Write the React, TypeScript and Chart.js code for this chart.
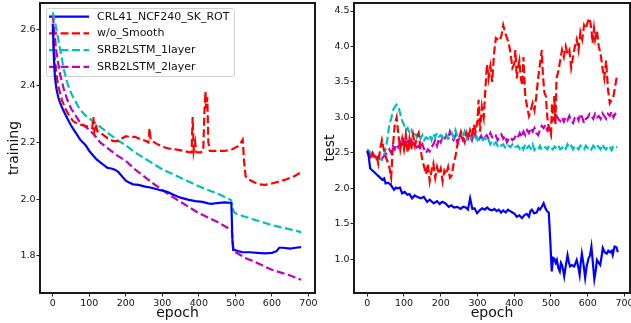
import React, { useEffect, useRef } from "react";
import { Chart, registerables } from "chart.js";

Chart.register(...registerables);

// ---------- labels ----------
const seriesNames = ["CRL41_NCF240_SK_ROT", "w/o_Smooth", "SRB2LSTM_1layer", "SRB2LSTM_2layer"];
const seriesColors = ["#0000ff", "#ff0000", "#00bfbf", "#bf00bf"];
const seriesDashed = [false, true, true, true];
const epochTicks = [0, 100, 200, 300, 400, 500, 600, 700];
const trainTicks = [1.8, 2.0, 2.2, 2.4, 2.6];
const testTicks = [1.0, 1.5, 2.0, 2.5, 3.0, 3.5, 4.0, 4.5];

// ---------- training (left) ----------
const trainCrlEpoch = [0, 3, 6, 10, 15, 20, 30, 40, 50, 60, 75, 90, 100, 110, 120, 130, 140, 150, 160, 170, 180, 190, 200, 210, 220, 235, 250, 270, 290, 300, 315, 330, 350, 370, 390, 410, 425, 435, 450, 470, 485, 489, 492, 494, 500, 510, 520, 540, 560, 580, 600, 612, 620, 630, 650, 665, 680];
const trainCrlLoss = [2.62, 2.5, 2.43, 2.39, 2.36, 2.34, 2.31, 2.285, 2.26, 2.24, 2.21, 2.19, 2.17, 2.155, 2.14, 2.13, 2.12, 2.11, 2.108, 2.104, 2.095, 2.08, 2.065, 2.058, 2.052, 2.05, 2.045, 2.04, 2.033, 2.03, 2.025, 2.015, 2.005, 1.998, 1.993, 1.99, 1.985, 1.983, 1.986, 1.988, 1.987, 1.985, 1.85, 1.82, 1.82, 1.815, 1.812, 1.812, 1.81, 1.808, 1.81, 1.815, 1.828, 1.828, 1.825, 1.828, 1.83];

const trainNoSmoothEpoch = [0, 5, 10, 15, 25, 34, 45, 56, 70, 85, 100, 108, 111, 114, 118, 122, 130, 150, 165, 180, 190, 200, 210, 225, 240, 255, 262, 265, 268, 272, 285, 300, 320, 340, 360, 375, 380, 383, 386, 390, 393, 405, 412, 415, 418, 420, 423, 426, 430, 450, 470, 490, 505, 515, 520, 524, 528, 535, 550, 565, 580, 600, 620, 640, 660, 680];
const trainNoSmoothLoss = [2.6, 2.5, 2.44, 2.4, 2.35, 2.32, 2.295, 2.275, 2.265, 2.26, 2.255, 2.25, 2.29, 2.24, 2.265, 2.24, 2.235, 2.215, 2.205, 2.205, 2.215, 2.222, 2.22, 2.22, 2.212, 2.205, 2.2, 2.25, 2.21, 2.205, 2.195, 2.185, 2.178, 2.175, 2.17, 2.165, 2.165, 2.29, 2.17, 2.2, 2.165, 2.165, 2.17, 2.3, 2.38, 2.32, 2.36, 2.2, 2.17, 2.17, 2.17, 2.175, 2.185, 2.2, 2.21, 2.13, 2.08, 2.07, 2.06, 2.052, 2.05, 2.055, 2.062, 2.07, 2.08, 2.095];

const train1LayerEpoch = [0, 10, 20, 30, 40, 50, 60, 75, 90, 100, 115, 130, 150, 175, 200, 225, 250, 275, 300, 325, 350, 375, 400, 425, 450, 470, 488, 492, 496, 500, 520, 550, 575, 600, 625, 650, 680];
const train1LayerLoss = [2.66, 2.6, 2.53, 2.46, 2.41, 2.375, 2.35, 2.315, 2.295, 2.285, 2.27, 2.255, 2.235, 2.21, 2.19, 2.165, 2.145, 2.125, 2.105, 2.09, 2.075, 2.06, 2.045, 2.032, 2.02, 2.008, 1.997, 1.97, 1.955, 1.95, 1.94, 1.928, 1.918, 1.908, 1.9, 1.893, 1.883];

const train2LayerEpoch = [0, 5, 10, 20, 30, 40, 50, 60, 75, 90, 100, 115, 130, 150, 175, 200, 225, 250, 275, 300, 325, 350, 375, 400, 425, 450, 470, 490, 494, 497, 510, 530, 550, 575, 600, 625, 650, 680];
const train2LayerLoss = [2.65, 2.58, 2.52, 2.44, 2.39, 2.35, 2.32, 2.3, 2.27, 2.255, 2.245, 2.225, 2.2, 2.18, 2.155, 2.135, 2.105, 2.08, 2.055, 2.032, 2.01, 1.99, 1.97, 1.95, 1.935, 1.92, 1.905, 1.89, 1.83, 1.815, 1.805, 1.79, 1.78, 1.765, 1.75, 1.74, 1.73, 1.715];

// ---------- test (right) ----------
const testCrlEpoch = [0, 4, 8, 18, 25, 32, 41, 46, 50, 57, 64, 73, 78, 82, 89, 95, 102, 109, 115, 122, 129, 136, 145, 154, 163, 170, 181, 190, 197, 204, 212, 222, 229, 236, 245, 254, 261, 268, 274, 280, 286, 292, 299, 306, 313, 320, 326, 333, 340, 346, 352, 358, 364, 370, 377, 383, 389, 395, 401, 407, 414, 421, 427, 434, 440, 444, 448, 454, 461, 466, 470, 475, 480, 485, 489, 494, 498, 502, 506, 509, 513, 516, 520, 524, 527, 530, 533, 536, 540, 545, 549, 552, 557, 563, 567, 570, 574, 578, 581, 584, 588, 593, 597, 602, 606, 610, 614, 618, 622, 625, 630, 634, 638, 641, 646, 652, 656, 661, 665, 668, 673, 678, 682];
const testCrlLoss = [2.53, 2.45, 2.28, 2.235, 2.2, 2.165, 2.12, 2.14, 2.07, 2.08, 2.05, 1.98, 2.01, 2.0, 2.01, 1.93, 1.95, 1.91, 1.92, 1.86, 1.9, 1.88, 1.86, 1.88, 1.81, 1.84, 1.79, 1.82, 1.78, 1.81, 1.79, 1.74, 1.76, 1.73, 1.74, 1.71, 1.74, 1.73, 1.7, 1.86, 1.71, 1.72, 1.65, 1.69, 1.72, 1.7, 1.73, 1.7, 1.69, 1.71, 1.68, 1.7, 1.66, 1.69, 1.66, 1.7, 1.68, 1.66, 1.64, 1.6, 1.62, 1.58, 1.62, 1.64, 1.6, 1.68, 1.7, 1.65, 1.66, 1.72, 1.7, 1.74, 1.79, 1.72, 1.68, 1.66, 1.27, 0.83, 1.02, 1.01, 0.95, 0.99, 0.88, 0.83, 0.95, 0.92, 0.85, 0.76, 0.9, 1.06, 0.95, 0.9, 0.92, 0.9, 0.95, 0.99, 0.9, 0.78, 0.95, 1.08, 0.95, 0.74, 0.9, 1.01, 1.05, 1.18, 0.95, 0.72, 0.85, 0.99, 0.95, 0.92, 1.05, 1.16, 1.1, 1.08, 1.12, 1.1, 1.12, 1.06, 1.18, 1.17, 1.1];

const testNoSmoothEpoch = [0, 5, 10, 15, 20, 25, 30, 35, 40, 45, 50, 55, 60, 65, 70, 75, 80, 85, 90, 95, 100, 105, 110, 115, 120, 125, 130, 135, 140, 145, 150, 155, 160, 165, 170, 175, 180, 185, 190, 195, 200, 205, 210, 215, 220, 225, 230, 235, 240, 245, 250, 255, 260, 265, 270, 275, 280, 285, 290, 295, 300, 303, 307, 312, 317, 322, 326, 330, 335, 340, 345, 350, 355, 360, 365, 370, 375, 380, 385, 390, 395, 400, 403, 407, 410, 414, 418, 422, 425, 430, 435, 440, 445, 450, 455, 460, 465, 470, 475, 478, 482, 486, 490, 495, 500, 503, 506, 509, 512, 515, 520, 525, 530, 535, 540, 545, 550, 555, 560, 565, 570, 575, 580, 585, 590, 595, 600, 605, 610, 613, 617, 620, 625, 630, 635, 640, 645, 650, 655, 660, 665, 670, 675, 680];
const testNoSmoothLoss = [2.52, 2.48, 2.42, 2.5, 2.45, 2.48, 2.35, 2.55, 2.68, 2.55, 2.45, 2.38, 2.3, 2.15, 2.6, 2.9, 3.0, 2.75, 2.55, 2.7, 2.55, 2.75, 2.5, 2.7, 2.55, 2.75, 2.6, 2.72, 2.78, 2.55, 2.4, 2.3, 2.2, 2.35, 2.1, 2.25, 2.35, 2.15, 2.3, 2.2, 2.28, 2.1, 2.25, 2.2, 2.3, 2.15, 2.18, 2.35, 2.45, 2.6, 2.7, 2.8, 2.72, 2.65, 2.78, 2.7, 2.82, 2.75, 2.9, 2.8, 2.95, 3.25, 2.8, 3.15, 3.0, 3.45, 3.75, 3.55, 3.72, 3.5, 3.9, 4.12, 4.1, 4.08, 4.15, 4.3, 4.2, 4.12, 4.05, 3.9, 3.7, 3.75, 3.95, 3.55, 3.7, 3.8, 3.55, 3.45, 3.85, 3.3, 3.15, 3.02, 3.1, 3.2, 3.1, 3.3, 3.55, 3.75, 3.95, 3.6, 3.35, 3.3, 3.0, 2.82, 2.75, 3.2, 2.95, 3.3, 2.9, 3.55, 3.65, 3.8, 3.95, 3.85, 4.0, 3.9, 3.95, 3.7, 3.85, 4.0, 4.1, 3.95, 4.2, 4.1, 4.3, 4.25, 4.35, 4.4, 4.25, 4.05, 4.25, 4.1, 4.22, 4.0, 3.9, 3.7, 3.55, 3.8, 3.4, 3.2, 3.25, 3.3, 3.45, 3.6];

const test1LayerEpoch = [0, 10, 20, 30, 40, 45, 50, 55, 60, 65, 70, 75, 80, 85, 90, 95, 100, 105, 110, 115, 120, 125, 130, 135, 140, 145, 150, 155, 160, 165, 170, 175, 180, 185, 190, 195, 200, 205, 210, 215, 220, 225, 230, 235, 240, 245, 250, 255, 260, 265, 270, 275, 280, 285, 290, 295, 300, 305, 310, 315, 320, 325, 330, 335, 340, 345, 350, 355, 360, 365, 370, 375, 380, 385, 390, 395, 400, 410, 415, 420, 425, 430, 435, 440, 445, 450, 455, 460, 465, 470, 475, 480, 485, 490, 495, 500, 505, 510, 515, 520, 525, 530, 535, 540, 545, 550, 555, 560, 565, 570, 575, 580, 585, 590, 595, 600, 605, 610, 615, 620, 625, 630, 635, 640, 645, 650, 655, 660, 665, 670, 675, 680];
const test1LayerLoss = [2.55, 2.5, 2.45, 2.42, 2.4, 2.45, 2.55, 2.7, 2.9, 2.98, 3.1, 3.15, 3.18, 3.15, 3.05, 2.95, 2.9, 2.82, 2.85, 2.78, 2.82, 2.75, 2.8, 2.72, 2.78, 2.7, 2.75, 2.68, 2.72, 2.7, 2.75, 2.68, 2.77, 2.72, 2.78, 2.73, 2.75, 2.7, 2.72, 2.76, 2.7, 2.74, 2.78, 2.72, 2.82, 2.74, 2.7, 2.78, 2.72, 2.8, 2.7, 2.76, 2.68, 2.75, 2.7, 2.74, 2.68, 2.72, 2.7, 2.68, 2.72, 2.66, 2.68, 2.62, 2.66, 2.62, 2.65, 2.6, 2.63, 2.6, 2.62, 2.58, 2.62, 2.6, 2.58, 2.62, 2.57, 2.6, 2.56, 2.6, 2.55, 2.62, 2.57, 2.6, 2.56, 2.62, 2.54, 2.57, 2.55, 2.6, 2.54, 2.56, 2.58, 2.55, 2.6, 2.57, 2.55, 2.59, 2.56, 2.6, 2.55, 2.57, 2.6, 2.56, 2.62, 2.57, 2.6, 2.55, 2.6, 2.58, 2.55, 2.6, 2.57, 2.55, 2.6, 2.57, 2.59, 2.55, 2.6, 2.57, 2.61, 2.58, 2.55, 2.62, 2.57, 2.55, 2.6, 2.58, 2.54, 2.6, 2.58, 2.58];

const test2LayerEpoch = [0, 5, 10, 15, 20, 25, 30, 35, 40, 45, 50, 55, 60, 65, 70, 75, 80, 85, 90, 95, 100, 105, 110, 115, 120, 125, 130, 135, 140, 145, 150, 155, 160, 165, 170, 175, 180, 185, 190, 195, 200, 205, 210, 215, 220, 225, 230, 235, 240, 245, 250, 255, 260, 265, 270, 275, 280, 285, 290, 295, 300, 305, 310, 315, 320, 325, 330, 335, 340, 345, 350, 355, 360, 365, 370, 375, 380, 385, 390, 395, 400, 405, 410, 415, 420, 425, 430, 435, 440, 445, 450, 455, 460, 465, 470, 475, 480, 485, 490, 495, 500, 505, 510, 515, 520, 525, 530, 535, 540, 545, 550, 555, 560, 565, 570, 575, 580, 585, 590, 595, 600, 605, 610, 615, 620, 625, 630, 635, 640, 645, 650, 655, 660, 665, 670, 675, 680];
const test2LayerLoss = [2.5, 2.5, 2.47, 2.45, 2.48, 2.42, 2.45, 2.4, 2.42, 2.45, 2.48, 2.5, 2.55, 2.5, 2.6, 2.55, 2.62, 2.58, 2.65, 2.6, 2.72, 2.62, 2.7, 2.6, 2.68, 2.62, 2.65, 2.58, 2.6, 2.55, 2.62, 2.55, 2.5, 2.55, 2.52, 2.58, 2.62, 2.68, 2.6, 2.7, 2.65, 2.72, 2.68, 2.75, 2.7, 2.8, 2.72, 2.68, 2.75, 2.65, 2.7, 2.75, 2.68, 2.72, 2.78, 2.7, 2.75, 2.68, 2.78, 2.72, 2.75, 2.7, 2.74, 2.68, 2.72, 2.75, 2.7, 2.78, 2.72, 2.7, 2.74, 2.68, 2.72, 2.76, 2.7, 2.74, 2.65, 2.7, 2.72, 2.68, 2.7, 2.75, 2.72, 2.78, 2.72, 2.8, 2.75, 2.82, 2.78, 2.85, 2.8, 2.85, 2.78, 2.75, 2.82, 2.88, 2.85, 2.9, 2.82, 2.88, 2.92, 2.98, 2.95, 3.02, 2.98, 2.95, 3.0, 2.94, 3.0, 2.96, 3.02, 2.95, 2.92, 3.0, 3.02, 2.96, 3.05, 3.0, 2.92, 2.98, 3.0, 3.05, 3.02, 2.98, 3.05, 3.0, 3.02, 2.98, 3.06, 3.02, 2.98, 3.05, 3.02, 3.08, 3.0, 3.05, 3.1];

const FONT = "'DejaVu Sans', sans-serif";

function pts(xs: number[], ys: number[]) {
  return xs.map((x, i) => ({ x, y: ys[i] }));
}

function makeDatasets(series: { x: number; y: number }[][]) {
  return series.map((data, i) => ({
    label: seriesNames[i],
    data,
    borderColor: seriesColors[i],
    backgroundColor: seriesColors[i],
    borderWidth: 2.2,
    borderDash: seriesDashed[i] ? [8, 3.5] : [],
    pointRadius: 0,
    tension: 0,
    fill: false,
  }));
}

const framePlugin = {
  id: "frame",
  afterDatasetsDraw(chart: any) {
    const { ctx, chartArea: a } = chart;
    ctx.save();
    ctx.strokeStyle = "#1a1a1a";
    ctx.lineWidth = 2;
    ctx.setLineDash([]);
    ctx.strokeRect(a.left, a.top, a.right - a.left, a.bottom - a.top);
    ctx.restore();
  },
};

const legendPlugin = {
  id: "customLegend",
  beforeDatasetsDraw(chart: any) {
    const { ctx } = chart;
    ctx.save();
    const bx = 46.5, by = 8.5, bw = 188, bh = 68;
    ctx.fillStyle = "rgba(255,255,255,0.8)";
    ctx.strokeStyle = "#d0d0d0";
    ctx.lineWidth = 1;
    ctx.beginPath();
    (ctx as any).roundRect ? (ctx as any).roundRect(bx, by, bw, bh, 2) : ctx.rect(bx, by, bw, bh);
    ctx.fill();
    ctx.stroke();
    ctx.font = `11px ${FONT}`;
    ctx.textBaseline = "middle";
    ctx.textAlign = "left";
    seriesNames.forEach((name, i) => {
      const y = 16.7 + i * 16.7;
      ctx.strokeStyle = seriesColors[i];
      ctx.lineWidth = 2.2;
      ctx.setLineDash(seriesDashed[i] ? [8, 3.5] : []);
      ctx.beginPath();
      ctx.moveTo(49, y);
      ctx.lineTo(89, y);
      ctx.stroke();
      ctx.setLineDash([]);
      ctx.fillStyle = "#111";
      ctx.fillText(name, 97, y);
    });
    ctx.restore();
  },
};

function buildOptions(opts: {
  xMin: number; xMax: number; yMin: number; yMax: number;
  yTicks: number[]; yTitle: string; yWidth: number; yTitlePad: number; yFmt: (v: number) => string;
}) {
  return {
    animation: false as const,
    responsive: false,
    devicePixelRatio: 1,
    layout: { padding: { left: 0, right: 5, top: 3, bottom: 0 } },
    plugins: { legend: { display: false }, tooltip: { enabled: false } },
    scales: {
      x: {
        type: "linear" as const,
        min: opts.xMin,
        max: opts.xMax,
        afterBuildTicks: (s: any) => { s.ticks = epochTicks.map((v) => ({ value: v })); },
        afterFit: (s: any) => { s.height = 30; s.paddingLeft = 0; s.paddingRight = 0; },
        ticks: {
          autoSkip: false, maxRotation: 0, padding: 1, color: "#111",
          font: { family: FONT, size: 9.5 },
          callback: (v: any) => String(v),
        },
        grid: { display: true, drawOnChartArea: false, drawTicks: true, tickLength: 3.5, color: "#222", lineWidth: 1 },
        border: { display: false },
        title: { display: true, text: "epoch", color: "#111", font: { family: FONT, size: 14 }, padding: { top: 0, bottom: 1 } },
      },
      y: {
        type: "linear" as const,
        min: opts.yMin,
        max: opts.yMax,
        afterBuildTicks: (s: any) => { s.ticks = opts.yTicks.map((v) => ({ value: v })); },
        afterFit: (s: any) => { s.width = opts.yWidth; s.paddingTop = 0; s.paddingBottom = 0; },
        ticks: {
          autoSkip: false, padding: 1, color: "#111",
          font: { family: FONT, size: 9.5 },
          callback: (v: any) => opts.yFmt(Number(v)),
        },
        grid: { display: true, drawOnChartArea: false, drawTicks: true, tickLength: 3.5, color: "#222", lineWidth: 1 },
        border: { display: false },
        title: { display: true, text: opts.yTitle, color: "#111", font: { family: FONT, size: 14 }, padding: { top: opts.yTitlePad, bottom: 0 } },
      },
    },
  };
}

export default function App() {
  const leftRef = useRef<HTMLCanvasElement>(null);
  const rightRef = useRef<HTMLCanvasElement>(null);

  useEffect(() => {
    const left = new Chart(leftRef.current as HTMLCanvasElement, {
      type: "line",
      data: {
        datasets: makeDatasets([
          pts(trainCrlEpoch, trainCrlLoss),
          pts(trainNoSmoothEpoch, trainNoSmoothLoss),
          pts(train1LayerEpoch, train1LayerLoss),
          pts(train2LayerEpoch, train2LayerLoss),
        ]) as any,
      },
      options: buildOptions({
        xMin: -35, xMax: 718, yMin: 1.668, yMax: 2.693,
        yTicks: trainTicks, yTitle: "training", yWidth: 40, yTitlePad: 5.5,
        yFmt: (v) => v.toFixed(1),
      }) as any,
      plugins: [legendPlugin, framePlugin],
    });
    const right = new Chart(rightRef.current as HTMLCanvasElement, {
      type: "line",
      data: {
        datasets: makeDatasets([
          pts(testCrlEpoch, testCrlLoss),
          pts(testNoSmoothEpoch, testNoSmoothLoss),
          pts(test1LayerEpoch, test1LayerLoss),
          pts(test2LayerEpoch, test2LayerLoss),
        ]) as any,
      },
      options: (() => {
        const o: any = buildOptions({
          xMin: -36, xMax: 715, yMin: 0.525, yMax: 4.613,
          yTicks: testTicks, yTitle: "test", yWidth: 34, yTitlePad: 1.6,
          yFmt: (v) => v.toFixed(1),
        });
        o.layout.padding.right = 30;
        return o;
      })(),
      plugins: [framePlugin],
    });
    return () => {
      left.destroy();
      right.destroy();
    };
  }, []);

  return (
    <div style={{ position: "fixed", left: 0, top: 0, width: 631, height: 323, overflow: "hidden", background: "#fff" }}>
      <canvas ref={leftRef} width={320} height={323} style={{ position: "absolute", left: 0, top: 0, width: 320, height: 323 }} />
      <canvas ref={rightRef} width={340} height={323} style={{ position: "absolute", left: 320, top: 0, width: 340, height: 323 }} />
    </div>
  );
}
